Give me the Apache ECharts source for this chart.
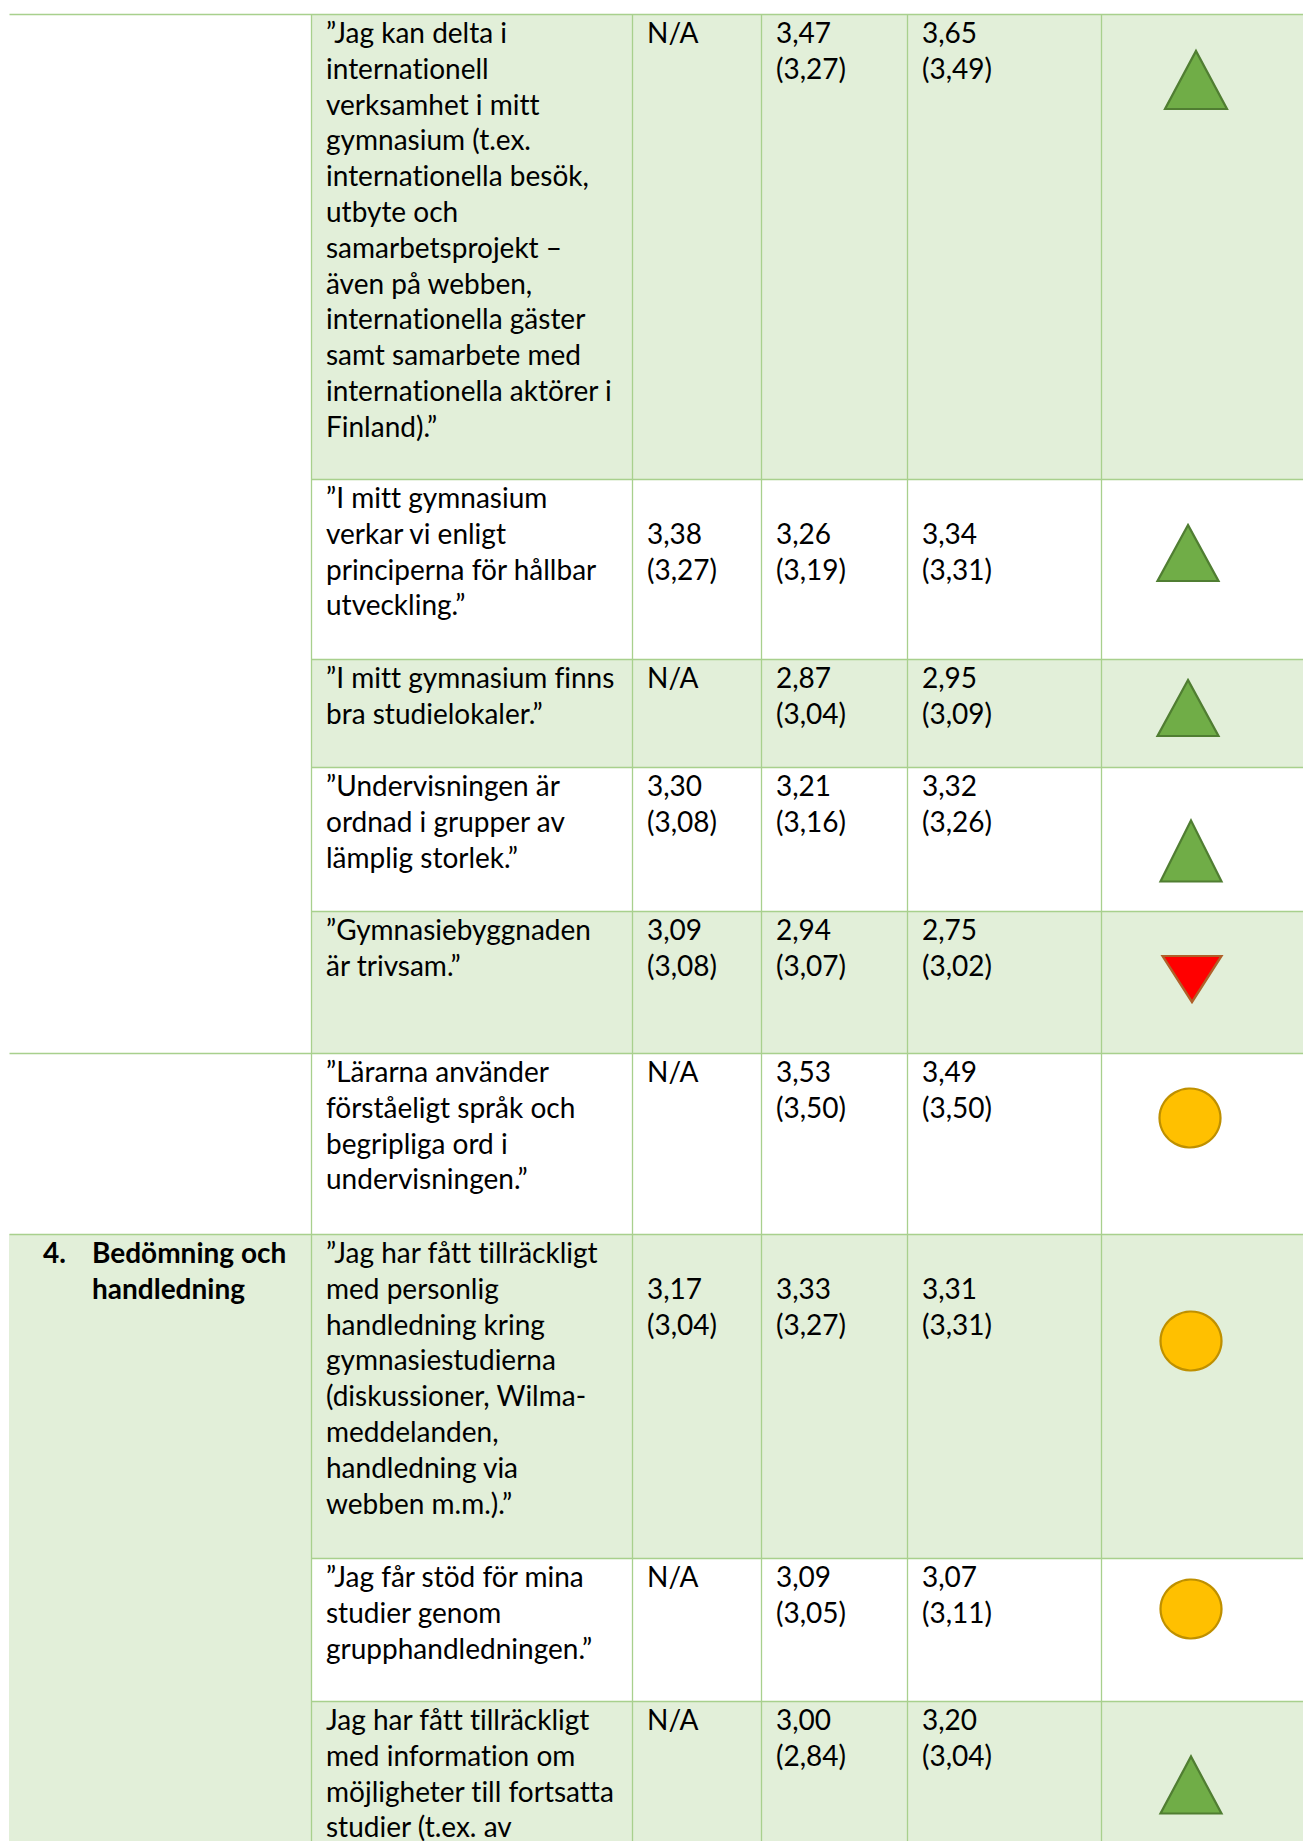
<!DOCTYPE html>
<html><head><meta charset="utf-8">
<script src="https://cdn.jsdelivr.net/npm/echarts@6/dist/echarts.min.js"></script>
<style>html,body{margin:0;padding:0;background:#fff}#c{width:1303px;height:1841px}#c text{font-variant-ligatures:none !important;font-feature-settings:"liga" 0,"clig" 0,"dlig" 0 !important}</style>
</head><body><div id="c"></div>
<script>
// ---------- DATA ----------
const sectionNumbers = ['', '', '4.'];
const sectionTitles = ['', '', 'Bedömning och\nhandledning'];
const sectionRowSpans = [[0, 4], [5, 5], [6, 8]];

const statements = [
  '”Jag kan delta i\ninternationell\nverksamhet i mitt\ngymnasium (t.ex.\ninternationella besök,\nutbyte och\nsamarbetsprojekt –\näven på webben,\ninternationella gäster\nsamt samarbete med\ninternationella aktörer i\nFinland).”',
  '”I mitt gymnasium\nverkar vi enligt\nprinciperna för hållbar\nutveckling.”',
  '”I mitt gymnasium finns\nbra studielokaler.”',
  '”Undervisningen är\nordnad i grupper av\nlämplig storlek.”',
  '”Gymnasiebyggnaden\när trivsam.”',
  '”Lärarna använder\nförståeligt språk och\nbegripliga ord i\nundervisningen.”',
  '”Jag har fått tillräckligt\nmed personlig\nhandledning kring\ngymnasiestudierna\n(diskussioner, Wilma-\nmeddelanden,\nhandledning via\nwebben m.m.).”',
  '”Jag får stöd för mina\nstudier genom\ngrupphandledningen.”',
  'Jag har fått tillräckligt\nmed information om\nmöjligheter till fortsatta\nstudier (t.ex. av'
];
// value (comparison in parentheses); null = N/A
const valuesA = [null, 3.38, null, 3.30, 3.09, null, 3.17, null, null];
const compA   = [null, 3.27, null, 3.08, 3.08, null, 3.04, null, null];
const valuesB = [3.47, 3.26, 2.87, 3.21, 2.94, 3.53, 3.33, 3.09, 3.00];
const compB   = [3.27, 3.19, 3.04, 3.16, 3.07, 3.50, 3.27, 3.05, 2.84];
const valuesC = [3.65, 3.34, 2.95, 3.32, 2.75, 3.49, 3.31, 3.07, 3.20];
const compC   = [3.49, 3.31, 3.09, 3.26, 3.02, 3.50, 3.31, 3.11, 3.04];
const trends  = ['up', 'up', 'up', 'up', 'down', 'neutral', 'neutral', 'neutral', 'up'];

// ---------- LAYOUT ----------
const COL_X = [9, 311, 632, 761, 907, 1101, 1330];
const ROW_Y = [14, 479, 659, 767, 911, 1053, 1234, 1558, 1701, 1960];
const VALUE_LINE_SHIFT = [0, 1, 0, 0, 0, 0, 1, 0, 0];
const ICON_X  = [1196, 1188, 1188, 1191, 1192, 1190, 1191, 1191, 1191];
const ICON_DY = [66, 74, 49, 84, 68, 65, 107, 51, 84];
const ICON_SIZE = [[62, 58], [61, 56], [61, 56], [61, 61], [59, 46], [61, 59], [61, 59], [61, 59], [61, 57]];
const LINE_H = 35.8, FIRST_LINE = 18, PAD = 15;
const FONT = 'Lato';
const FS = 28;
const GREEN = '#E2EFD9', BORDER = '#A8D08D';

const fmt = v => v.toFixed(2).replace('.', ',');
const cellText = (v, c) => v == null ? 'N/A' : fmt(v) + '\n(' + fmt(c) + ')';

// build cells
const cells = [];
sectionRowSpans.forEach((s, i) => {
  cells.push({col: 0, r0: s[0], r1: s[1], fill: i === 2 ? GREEN : '#fff', section: i});
});
statements.forEach((t, r) => {
  const fill = r % 2 === 0 ? GREEN : '#fff';
  cells.push({col: 1, r0: r, r1: r, fill, text: t, shift: 0});
  cells.push({col: 2, r0: r, r1: r, fill, text: cellText(valuesA[r], compA[r]), shift: VALUE_LINE_SHIFT[r]});
  cells.push({col: 3, r0: r, r1: r, fill, text: cellText(valuesB[r], compB[r]), shift: VALUE_LINE_SHIFT[r]});
  cells.push({col: 4, r0: r, r1: r, fill, text: cellText(valuesC[r], compC[r]), shift: VALUE_LINE_SHIFT[r]});
  cells.push({col: 5, r0: r, r1: r, fill, text: '', shift: 0});
});

// border lines
const lines = [];
lines.push([COL_X[0], ROW_Y[0], COL_X[6], ROW_Y[0]]);
for (let r = 1; r < statements.length; r++) {
  const startsSection = sectionRowSpans.some(s => s[0] === r);
  lines.push([startsSection ? COL_X[0] : COL_X[1], ROW_Y[r], COL_X[6], ROW_Y[r]]);
}
for (let c = 1; c <= 5; c++) lines.push([COL_X[c], ROW_Y[0], COL_X[c], ROW_Y[ROW_Y.length - 1]]);

const iconStyles = {
  up: {symbol: 'triangle', rotate: 0, color: '#70AD47', border: '#507E32'},
  down: {symbol: 'triangle', rotate: 180, color: '#FF0000', border: '#B0602A'},
  neutral: {symbol: 'circle', rotate: 0, color: '#FFC000', border: '#BF9000'}
};
const iconData = trends.map((t, r) => ({
  value: [ICON_X[r], ROW_Y[r] + ICON_DY[r]],
  symbol: iconStyles[t].symbol,
  symbolRotate: iconStyles[t].rotate,
  symbolSize: ICON_SIZE[r],
  itemStyle: {color: iconStyles[t].color, borderColor: iconStyles[t].border, borderWidth: 2.2, opacity: 1}
}));

const chart = echarts.init(document.getElementById('c'), null, {renderer: 'svg'});
chart.setOption({
  animation: false,
  backgroundColor: '#ffffff',
  grid: {left: 0, right: 0, top: 0, bottom: 0, containLabel: false},
  xAxis: {type: 'value', min: 0, max: 1303, show: false},
  yAxis: {type: 'value', min: 0, max: 1841, inverse: true, show: false},
  series: [
    {
      type: 'custom', clip: true, silent: true, z: 1,
      data: cells.map(c => [COL_X[c.col], ROW_Y[c.r0], COL_X[c.col + 1], ROW_Y[c.r1 + 1]]),
      renderItem: (params, api) => {
        const c = cells[params.dataIndex];
        const p0 = api.coord([api.value(0), api.value(1)]);
        const p1 = api.coord([api.value(2), api.value(3)]);
        const children = [{type: 'rect', shape: {x: p0[0], y: p0[1], width: p1[0] - p0[0], height: p1[1] - p0[1]}, style: {fill: c.fill}}];
        const ty = p0[1] + FIRST_LINE - LINE_H / 2;
        if (c.col === 0) {
          const s = c.section;
          if (sectionNumbers[s]) {
            children.push({type: 'text', style: {text: sectionNumbers[s], x: 43, y: ty, font: 'bold ' + FS + 'px ' + FONT, fill: '#000', lineHeight: LINE_H, verticalAlign: 'top'}});
            children.push({type: 'text', style: {text: sectionTitles[s], x: 92, y: ty, font: 'bold ' + FS + 'px ' + FONT, fill: '#000', lineHeight: LINE_H, verticalAlign: 'top'}});
          }
        } else if (c.text) {
          children.push({type: 'text', style: {text: c.text, x: p0[0] + PAD, y: ty + c.shift * LINE_H, font: FS + 'px ' + FONT, fill: '#000', lineHeight: LINE_H, verticalAlign: 'top'}});
        }
        return {type: 'group', children};
      }
    },
    {
      type: 'custom', clip: true, silent: true, z: 2,
      data: lines,
      renderItem: (params, api) => {
        const a = api.coord([api.value(0), api.value(1)]);
        const b = api.coord([api.value(2), api.value(3)]);
        return {type: 'line', shape: {x1: Math.round(a[0]) + 0.5, y1: Math.round(a[1]) + 0.5, x2: Math.round(b[0]) + 0.5, y2: Math.round(b[1]) + 0.5}, style: {stroke: BORDER, lineWidth: 1.3}};
      }
    },
    {
      type: 'scatter', z: 3, silent: true,
      data: iconData
    }
  ]
});
</script></body></html>
